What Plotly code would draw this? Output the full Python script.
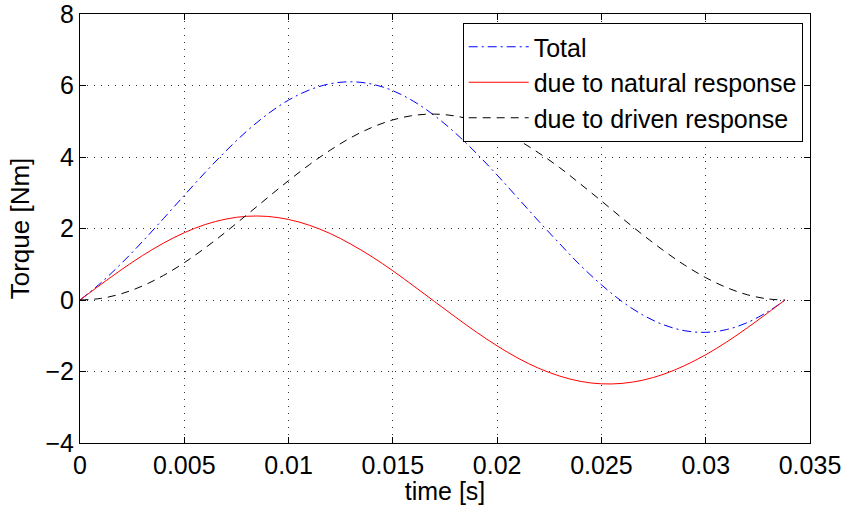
import plotly.graph_objects as go

time_s = [0.000, 0.001, 0.002, 0.003, 0.004, 0.005, 0.006, 0.007, 0.008, 0.009,
          0.010, 0.011, 0.012, 0.013, 0.014, 0.015, 0.016, 0.017, 0.018, 0.019,
          0.020, 0.021, 0.022, 0.023, 0.024, 0.025, 0.026, 0.027, 0.028, 0.029,
          0.030, 0.031, 0.032, 0.033, 0.0338]

total = [0.000, 0.479, 1.032, 1.638, 2.277, 2.927, 3.568, 4.172, 4.725, 5.203,
         5.592, 5.877, 6.050, 6.104, 6.039, 5.855, 5.556, 5.157, 4.669, 4.108,
         3.495, 2.849, 2.199, 1.574, 0.965, 0.425, -0.047, -0.424, -0.698, -0.860,
         -0.904, -0.827, -0.630, -0.320, 0.000]

natural = [0.000, 0.434, 0.854, 1.244, 1.591, 1.883, 2.111, 2.265, 2.342, 2.338,
           2.253, 2.091, 1.858, 1.558, 1.210, 0.817, 0.392, -0.043, -0.477, -0.896,
           -1.283, -1.627, -1.912, -2.128, -2.277, -2.345, -2.332, -2.241, -2.072, -1.832,
           -1.531, -1.176, -0.776, -0.349, 0.000]

driven = [0.000, 0.045, 0.178, 0.394, 0.686, 1.044, 1.457, 1.907, 2.383, 2.865,
          3.339, 3.786, 4.192, 4.546, 4.829, 5.038, 5.164, 5.200, 5.146, 5.004,
          4.778, 4.476, 4.111, 3.702, 3.242, 2.770, 2.285, 1.817, 1.374, 0.972,
          0.627, 0.349, 0.146, 0.029, 0.000]

x_ticks = [0, 0.005, 0.01, 0.015, 0.02, 0.025, 0.03, 0.035]
x_tick_labels = ["0", "0.005", "0.01", "0.015", "0.02", "0.025", "0.03", "0.035"]
y_ticks = [-4, -2, 0, 2, 4, 6, 8]
y_tick_labels = ["\u22124", "\u22122", "0", "2", "4", "6", "8"]

FONT = "Liberation Sans, Arial, Helvetica, sans-serif"

fig = go.Figure()
fig.add_trace(go.Scatter(x=time_s, y=total, mode="lines", name="Total",
                         line=dict(color="#0000ff", width=1, dash="9px,4px,2px,4px", shape="spline")))
fig.add_trace(go.Scatter(x=time_s, y=natural, mode="lines", name="due to natural response",
                         line=dict(color="#ff0000", width=1, shape="spline")))
fig.add_trace(go.Scatter(x=time_s, y=driven, mode="lines", name="due to driven response",
                         line=dict(color="#000000", width=1, dash="8px,6px", shape="spline")))

axis_common = dict(
    showline=True, linecolor="black", linewidth=1, mirror="ticks",
    ticks="inside", ticklen=6, tickcolor="black", automargin=False,
    showgrid=True, gridcolor="rgba(0,0,0,0.8)", gridwidth=1, griddash="1px,6px",
    zeroline=False, tickfont=dict(size=25, color="black", family=FONT),
    ticklabeloverflow="allow",
)

fig.update_xaxes(range=[0, 0.035], tickvals=x_ticks, ticktext=x_tick_labels,
                 title=dict(text="time [s]", font=dict(size=25, color="black", family=FONT), standoff=0),
                 **axis_common)
fig.update_yaxes(range=[-4, 8.0005], tickvals=y_ticks, ticktext=y_tick_labels,
                 title=dict(text="Torque [Nm]", font=dict(size=26, color="black", family=FONT), standoff=8),
                 **axis_common)

fig.update_layout(
    width=845, height=505,
    margin=dict(l=80, r=35, t=14, b=62),
    paper_bgcolor="white", plot_bgcolor="white",
    font=dict(family=FONT, size=25, color="black"),
    showlegend=True,
    legend=dict(x=0.990, y=0.979, xanchor="right", yanchor="top",
                bgcolor="white", bordercolor="black", borderwidth=1,
                font=dict(size=25, color="black", family=FONT),
                tracegroupgap=0, itemwidth=60),
)

fig.write_html("out.html")
